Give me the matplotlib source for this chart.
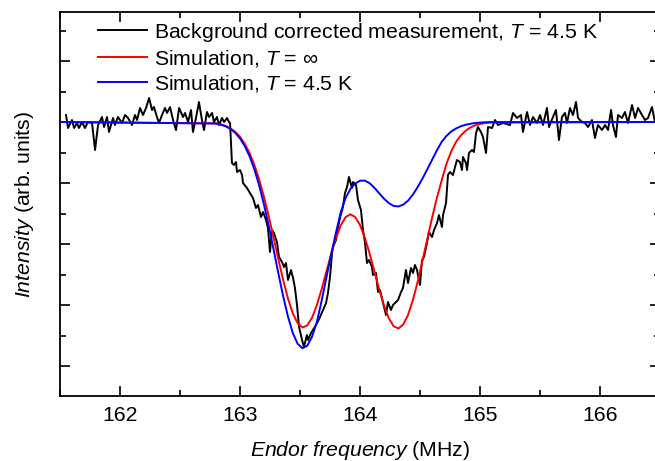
import matplotlib
matplotlib.use("Agg")
import matplotlib.pyplot as plt
from matplotlib.ticker import MultipleLocator, NullFormatter

plt.rcParams['font.family'] = ['Liberation Sans', 'DejaVu Sans']
plt.rcParams['mathtext.fontset'] = 'custom'
plt.rcParams['mathtext.rm'] = 'Liberation Sans'
plt.rcParams['mathtext.it'] = 'Liberation Sans:italic'

# Measured ENDOR spectrum (background corrected, T = 4.5 K), arb. units
freq_meas = [161.550, 161.567, 161.600, 161.617, 161.642, 161.658, 161.683, 161.708, 161.733, 161.767,
             161.792, 161.817, 161.850, 161.867, 161.892, 161.908, 161.942, 161.958, 161.983, 162.017,
             162.042, 162.067, 162.100, 162.125, 162.142, 162.167, 162.192, 162.217, 162.242, 162.267,
             162.283, 162.308, 162.325, 162.350, 162.375, 162.392, 162.417, 162.442, 162.467, 162.492,
             162.525, 162.542, 162.567, 162.592, 162.608, 162.633, 162.658, 162.683, 162.700, 162.725,
             162.742, 162.767, 162.783, 162.808, 162.825, 162.850, 162.867, 162.892, 162.908, 162.917,
             162.933, 162.950, 162.967, 162.975, 163.000, 163.017, 163.025, 163.058, 163.083, 163.108,
             163.133, 163.150, 163.175, 163.192, 163.217, 163.233, 163.250, 163.267, 163.283, 163.308,
             163.325, 163.350, 163.367, 163.383, 163.400, 163.425, 163.442, 163.458, 163.475, 163.492,
             163.517, 163.533, 163.558, 163.567, 163.592, 163.608, 163.642, 163.667, 163.692, 163.717,
             163.733, 163.750, 163.767, 163.775, 163.800, 163.817, 163.833, 163.858, 163.875, 163.892,
             163.908, 163.933, 163.942, 163.967, 163.983, 164.008, 164.025, 164.042, 164.058, 164.075,
             164.100, 164.108, 164.133, 164.150, 164.167, 164.192, 164.217, 164.233, 164.258, 164.275,
             164.292, 164.317, 164.342, 164.358, 164.383, 164.400, 164.425, 164.442, 164.458, 164.475,
             164.500, 164.517, 164.533, 164.558, 164.575, 164.600, 164.617, 164.642, 164.658, 164.683,
             164.692, 164.717, 164.733, 164.750, 164.775, 164.792, 164.808, 164.833, 164.850, 164.858,
             164.883, 164.892, 164.908, 164.933, 164.950, 164.967, 164.983, 165.008, 165.025, 165.050,
             165.067, 165.100, 165.125, 165.150, 165.192, 165.250, 165.275, 165.308, 165.342, 165.358,
             165.392, 165.417, 165.442, 165.475, 165.500, 165.525, 165.558, 165.575, 165.608, 165.633,
             165.658, 165.683, 165.708, 165.725, 165.750, 165.775, 165.800, 165.817, 165.850, 165.875,
             165.900, 165.933, 165.958, 165.983, 166.017, 166.042, 166.067, 166.092, 166.108, 166.133,
             166.150, 166.183, 166.208, 166.233, 166.267, 166.292, 166.317, 166.350, 166.375, 166.400,
             166.433, 166.458, 166.500]
int_meas = [7, -6, 2, -6, -1, -6, 0, -6, 0, -1,
            -28, -3, 5, -5, 5, -10, 4, -3, 5, -1,
            7, 4, -3, 7, 2, 14, 7, 14, 24, 12,
            15, 5, -1, 7, 14, 9, 15, 2, -8, 14,
            5, 9, 0, 12, -10, 4, 20, 2, -8, 10,
            5, 9, 0, 5, -3, 4, 0, 4, 0, -1,
            -41, -43, -40, -50, -48, -53, -61, -66, -71, -76,
            -86, -83, -95, -90, -98, -106, -130, -108, -111, -120,
            -135, -140, -145, -141, -158, -148, -156, -166, -183, -205,
            -218, -225, -213, -218, -211, -208, -201, -195, -188, -181,
            -171, -155, -131, -125, -118, -105, -96, -85, -71, -65,
            -55, -66, -60, -63, -78, -88, -108, -121, -141, -138,
            -145, -153, -151, -170, -168, -181, -193, -180, -188, -183,
            -181, -178, -170, -166, -148, -161, -146, -151, -143, -148,
            -163, -138, -135, -121, -110, -115, -108, -101, -93, -105,
            -93, -81, -53, -50, -53, -45, -38, -40, -48, -35,
            -41, -48, -31, -28, -30, -11, -5, -10, -15, -31,
            -5, -6, 2, -3, -1, -3, 9, 4, 7, -10,
            10, -3, 5, -1, 7, -3, 14, -5, 5, 12,
            -18, 5, 9, -1, 14, 7, 20, 4, 0, -1,
            -5, 2, -16, -3, -8, -3, -8, 12, -3, -15,
            7, 4, 10, -1, 17, 4, 14, 7, 2, 4,
            15, 0, 4]

# Frequency grid of the two simulated spectra (MHz)
freq_sim = [161.50, 162.80, 162.84, 162.88, 162.92, 162.96, 163.00, 163.04, 163.08, 163.12,
            163.16, 163.20, 163.24, 163.28, 163.32, 163.36, 163.40, 163.44, 163.48, 163.52,
            163.56, 163.60, 163.64, 163.68, 163.72, 163.76, 163.80, 163.84, 163.88, 163.92,
            163.96, 164.00, 164.04, 164.08, 164.12, 164.16, 164.20, 164.24, 164.28, 164.32,
            164.36, 164.40, 164.44, 164.48, 164.52, 164.56, 164.60, 164.64, 164.68, 164.72,
            164.76, 164.80, 164.84, 164.88, 164.92, 164.96, 165.00, 165.04, 165.08, 166.50]

# Simulation, T = infinity
int_sim_inf = [0, -1.4, -2.3, -3.9, -6.3, -9.8, -14.8, -21.8, -31.1, -43.0,
               -57.6, -75.0, -94.6, -115.7, -137.4, -158.2, -176.6, -191.4, -201.1, -205.5,
               -203.5, -195.8, -183.3, -167.4, -149.6, -131.9, -115.9, -103.3, -95.1, -92.3,
               -95.0, -103.0, -115.6, -131.6, -149.3, -167.3, -183.5, -196.3, -204.2, -206.5,
               -202.6, -193.0, -178.4, -160.0, -139.1, -117.4, -96.1, -76.3, -58.7, -42.0,
               -29.5, -20.0, -13.5, -8.8, -5.5, -3.3, -2.0, -1.1, -0.6, 0]

# Simulation, T = 4.5 K
int_sim_45 = [0, -1.5, -2.6, -4.3, -6.9, -10.8, -16.4, -24.1, -34.3, -47.4,
              -63.5, -82.6, -104.3, -127.6, -151.5, -174.4, -194.7, -211.0, -221.7, -226.2,
              -223.8, -214.8, -200.3, -179.0, -155.5, -132.0, -110.5, -90.0, -76.0, -67.0,
              -61.5, -58.7, -58.6, -61.2, -65.8, -71.3, -76.6, -81.1, -83.9, -84.5,
              -82.6, -78.7, -72.7, -65.2, -56.7, -47.5, -38.0, -28.5, -20.0, -14.0,
              -9.5, -6.5, -4.3, -2.8, -1.8, -1.0, -0.6, -0.3, -0.1, 0]

FS = 15.3

fig = plt.figure(figsize=(6.55, 4.61), dpi=100)
ax = fig.add_axes([60 / 655, 65 / 461, 600 / 655, 384 / 461])

ax.plot(freq_meas, int_meas, color='black', lw=1.4,
        label=r'Background corrected measurement, $\mathit{T}$ = 4.5 K')
ax.plot(freq_sim, int_sim_inf, color='#ff0000', lw=1.4,
        label=r'Simulation, $\mathit{T}$ = ∞')
ax.plot(freq_sim, int_sim_45, color='#0000ff', lw=1.4,
        label=r'Simulation, $\mathit{T}$ = 4.5 K')

ax.set_xlim(161.5, 166.5)
ax.set_ylim(-274, 110)
ax.xaxis.set_major_locator(MultipleLocator(1))
ax.xaxis.set_minor_locator(MultipleLocator(0.5))
ax.yaxis.set_major_locator(MultipleLocator(61))
ax.yaxis.set_minor_locator(MultipleLocator(30.5))
ax.yaxis.set_major_formatter(NullFormatter())

ax.tick_params(which='both', direction='in', top=True, right=True, width=1.2,
               labelsize=FS, pad=7)
ax.tick_params(which='major', length=7)
ax.tick_params(which='minor', length=4)
for sp in ax.spines.values():
    sp.set_linewidth(1.3)

ax.set_xlabel(r'$\mathit{Endor\ frequency}$ (MHz)', fontsize=FS, labelpad=10)
ax.set_ylabel(r'$\mathit{Intensity}$ (arb. units)', fontsize=FS, labelpad=10)

ax.legend(loc='upper left', bbox_to_anchor=(0.0425, 1.01), frameon=False, fontsize=FS,
          handlelength=2.3, handletextpad=0.3, labelspacing=0.2, borderaxespad=0.2)

fig.savefig('out.png', dpi=100)
